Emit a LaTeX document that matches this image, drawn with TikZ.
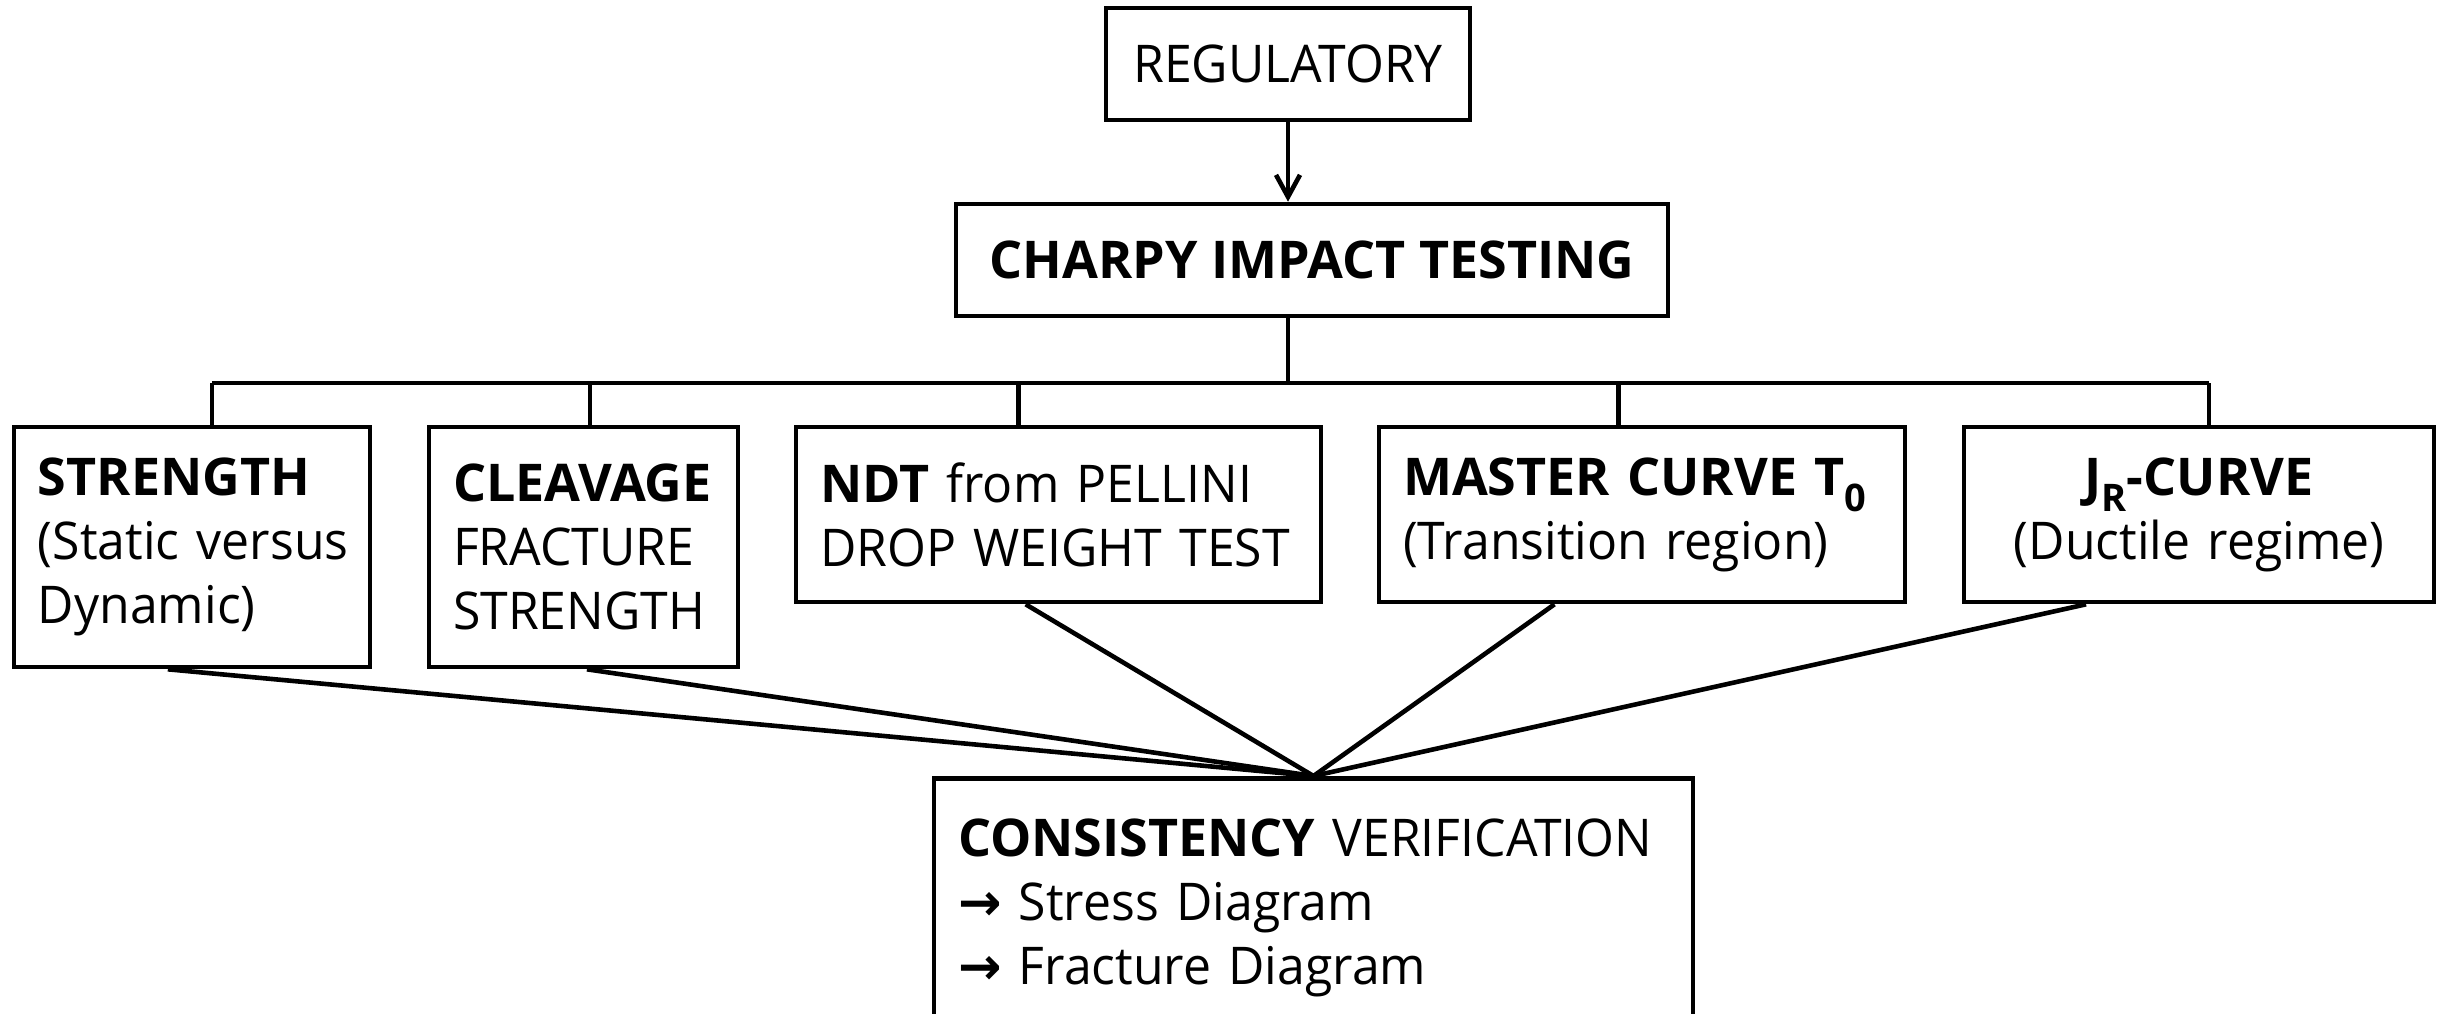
\documentclass[tikz,border=0pt]{standalone}
\usepackage{fontspec}
\setmainfont{Open Sans}[UprightFeatures={FakeStretch=0.96}]
\newfontfamily\arrowfont{DejaVu Sans}
\usetikzlibrary{calc,arrows.meta}

\tikzset{every picture/.style={line width=2.3pt}}
\tikzset{
  box/.style={draw, line width=2.3pt, inner xsep=12pt, inner ysep=0pt, font={\fontsize{26}{32}\selectfont\hyphenpenalty=10000\relax}},
  link/.style={line width=2.3pt},
}
\newcommand{\lowsub}[1]{\raisebox{-0.32em}{\fontsize{19}{19}\selectfont #1}}
\newcommand{\toarrow}{{\arrowfont\bfseries →}}

\begin{document}
\begin{tikzpicture}[x=0.5pt,y=0.5pt,yscale=-1,xscale=1]
\useasboundingbox (0,0) rectangle (2438,1013);

% Text Node
\node (reg) at (1288,64) [box, minimum width=182pt, minimum height=56pt] {REGULATORY};
% Text Node
\node (charpy) at (1312,260) [box, minimum width=356pt, minimum height=56pt] {\textbf{CHARPY IMPACT TESTING}};

% Text Node
\node (str) at (192,547) [box, minimum height=120pt, text width=154pt, align=left] {\textbf{STRENGTH}\\(Static~versus\\Dynamic)};
% Text Node
\node (clv) at (583.5,547) [box, minimum height=120pt, text width=130.5pt, align=left] {\textbf{CLEAVAGE}\\FRACTURE\\STRENGTH};
% Text Node
\node (ndt) at (1058.5,514.5) [box, minimum height=87.5pt, text width=238.5pt, align=left] {\textbf{NDT}~from~PELLINI\\DROP~WEIGHT~TEST};
% Text Node
\node (mst) at (1642,514.5) [box, minimum height=87.5pt, text width=239pt, align=left] {\textbf{MASTER~CURVE~T\lowsub{0}}\\(Transition~region)};
% Text Node
\node (jr) at (2199,514.5) [box, minimum height=87.5pt, text width=211pt, align=center] {\textbf{J\lowsub{R}-CURVE}\\(Ductile~regime)};

% Text Node
\node (cons) at (1313.5,776) [box, anchor=north, minimum height=130pt, text width=355.5pt, align=left] {\textbf{CONSISTENCY}~VERIFICATION\\\toarrow~Stress~Diagram\\\toarrow~Fracture~Diagram};

%Straight Lines: regulatory to charpy
\draw [link, -{Straight Barb[length=11pt,width=12pt]}] (reg.south) -- (reg.south |- charpy.north);

%Straight Lines: tree below charpy
\coordinate (bus) at (1288,383);
\draw [link] (reg.south |- charpy.south) -- (bus);
\coordinate (t1) at ($(str.north west)!0.556!(str.north east)$);
\coordinate (t2) at ($(clv.north west)!0.521!(clv.north east)$);
\coordinate (t3) at ($(ndt.north west)!0.425!(ndt.north east)$);
\coordinate (t4) at ($(mst.north west)!0.456!(mst.north east)$);
\coordinate (t5) at ($(jr.north west)!0.521!(jr.north east)$);
\draw [link] (t1 |- bus) -- (t5 |- bus);
\draw [link] (t1 |- bus) -- (t1);
\draw [link] (t2 |- bus) -- (t2);
\draw [link] (t3 |- bus) -- (t3);
\draw [link] (t4 |- bus) -- (t4);
\draw [link] (t5 |- bus) -- (t5);

%Straight Lines: all boxes to consistency
\coordinate (b1) at ($(str.south west)!0.433!(str.south east)$);
\coordinate (b2) at ($(clv.south west)!0.511!(clv.south east)$);
\coordinate (b3) at ($(ndt.south west)!0.438!(ndt.south east)$);
\coordinate (b4) at ($(mst.south west)!0.335!(mst.south east)$);
\coordinate (b5) at ($(jr.south west)!0.262!(jr.south east)$);
\draw [link] (b1) -- (cons.north);
\draw [link] (b2) -- (cons.north);
\draw [link] (b3) -- (cons.north);
\draw [link] (b4) -- (cons.north);
\draw [link] (b5) -- (cons.north);

\end{tikzpicture}
\end{document}
